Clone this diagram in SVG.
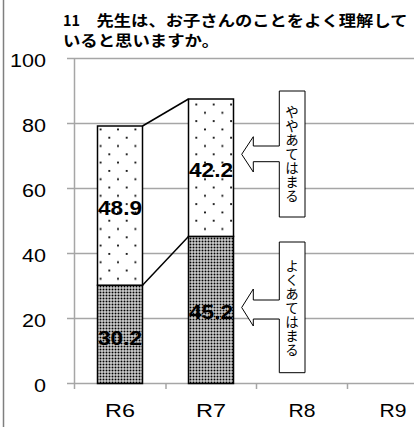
<svg xmlns="http://www.w3.org/2000/svg" width="414" height="427" viewBox="0 0 414 427">
<defs>
<style>
.grid{stroke:#a6a6a6;stroke-width:1.5;fill:none}
.ax{font-family:"Liberation Sans",Arial,sans-serif;font-size:18px;fill:#000}
.cat{font-family:"Liberation Sans",Arial,sans-serif;font-size:19px;fill:#000;text-anchor:middle}
.val{font-family:"Liberation Sans",Arial,sans-serif;font-size:20px;font-weight:bold;fill:#000;text-anchor:middle}
.bar{stroke:#000;stroke-width:1.5}
.ttl{font-family:"Noto Sans CJK JP","Noto Sans",sans-serif;font-size:15px;font-weight:bold;fill:#000}
.vt{font-family:"Noto Sans CJK JP","Noto Sans",sans-serif;font-size:13.5px;fill:#000;writing-mode:vertical-rl;text-orientation:upright;text-anchor:middle;letter-spacing:0.4px}
.call{fill:#fff;stroke:#000;stroke-width:1}
.conn{stroke:#000;stroke-width:1.5;fill:none}
</style>
<pattern id="sparse" width="17.4" height="16.6" patternUnits="userSpaceOnUse" x="2" y="2">
<rect width="17.4" height="16.6" fill="#fff"/>
<rect x="2" y="2" width="1.8" height="1.8" fill="#000"/>
<rect x="10.7" y="10.3" width="1.8" height="1.8" fill="#000"/>
</pattern>
<pattern id="dense" width="3" height="3" patternUnits="userSpaceOnUse">
<rect width="3" height="3" fill="#fff"/>
<rect x="0.5" y="0.5" width="2" height="2" fill="#000"/>
</pattern>
</defs>
<rect width="414" height="427" fill="#fff"/>
<line x1="3.5" y1="0" x2="3.5" y2="427" stroke="#7f7f7f" stroke-width="1.5"/>

<g id="title">
<text class="ttl" x="63" y="26" textLength="17" lengthAdjust="spacingAndGlyphs">11</text>
<text class="ttl" x="96.5" y="26" textLength="311" lengthAdjust="spacingAndGlyphs">先生は、お子さんのことをよく理解して</text>
<text class="ttl" x="63" y="46" textLength="156" lengthAdjust="spacingAndGlyphs">いると思いますか。</text>
</g>

<g id="axes">
<line class="grid" x1="67" y1="58.5" x2="414" y2="58.5"/>
<line class="grid" x1="67" y1="123.5" x2="414" y2="123.5"/>
<line class="grid" x1="67" y1="188.5" x2="414" y2="188.5"/>
<line class="grid" x1="67" y1="253.5" x2="414" y2="253.5"/>
<line class="grid" x1="67" y1="318.5" x2="414" y2="318.5"/>
<line class="grid" x1="67" y1="383.5" x2="414" y2="383.5"/>
<line class="grid" x1="74.5" y1="58.5" x2="74.5" y2="389"/>
<line class="grid" x1="166" y1="383.5" x2="166" y2="389"/>
<line class="grid" x1="256.5" y1="383.5" x2="256.5" y2="389"/>
<line class="grid" x1="347.5" y1="383.5" x2="347.5" y2="389"/>
<text class="ax" x="46" y="66.5" text-anchor="end" textLength="36" lengthAdjust="spacingAndGlyphs">100</text>
<text class="ax" x="46" y="131.5" text-anchor="end" textLength="24" lengthAdjust="spacingAndGlyphs">80</text>
<text class="ax" x="46" y="196.5" text-anchor="end" textLength="24" lengthAdjust="spacingAndGlyphs">60</text>
<text class="ax" x="46" y="261.5" text-anchor="end" textLength="24" lengthAdjust="spacingAndGlyphs">40</text>
<text class="ax" x="46" y="326.5" text-anchor="end" textLength="24" lengthAdjust="spacingAndGlyphs">20</text>
<text class="ax" x="46" y="391.5" text-anchor="end" textLength="12" lengthAdjust="spacingAndGlyphs">0</text>
<text class="cat" x="120" y="417" textLength="30" lengthAdjust="spacingAndGlyphs">R6</text>
<text class="cat" x="211" y="417" textLength="30" lengthAdjust="spacingAndGlyphs">R7</text>
<text class="cat" x="302" y="417" textLength="27" lengthAdjust="spacingAndGlyphs">R8</text>
<text class="cat" x="393" y="417" textLength="27" lengthAdjust="spacingAndGlyphs">R9</text>
</g>

<g id="connectors">
<line class="conn" x1="142.5" y1="126" x2="188.5" y2="99"/>
<line class="conn" x1="142.5" y1="285.2" x2="188.5" y2="236.4"/>
</g>

<g id="bar-R6">
<rect class="bar" x="97.5" y="285.2" width="45" height="98.3" fill="url(#dense)"/>
<rect class="bar" x="97.5" y="126" width="45" height="159.2" fill="url(#sparse)"/>
<text class="val" x="120" y="345" textLength="44" lengthAdjust="spacingAndGlyphs">30.2</text>
<text class="val" x="120" y="215" textLength="44" lengthAdjust="spacingAndGlyphs">48.9</text>
</g>

<g id="bar-R7">
<rect class="bar" x="188.5" y="236.4" width="45" height="147.1" fill="url(#dense)"/>
<rect class="bar" x="188.5" y="99" width="45" height="137.4" fill="url(#sparse)"/>
<text class="val" x="211" y="319" textLength="44" lengthAdjust="spacingAndGlyphs">45.2</text>
<text class="val" x="211" y="177" textLength="44" lengthAdjust="spacingAndGlyphs">42.2</text>
</g>

<g id="callout-yaya">
<path class="call" d="M279.3,91 H305 V217 H279.3 V161.7 H253.3 V172 L241.7,154.3 L253.3,136.7 V146 H279.3 Z"/>
<text class="vt" x="292" y="154">ややあてはまる</text>
</g>

<g id="callout-yoku">
<path class="call" d="M279.3,242 H305 V372.7 H279.3 V319 H253.3 V326 L241.7,307.5 L253.3,289 V300 H279.3 Z"/>
<text class="vt" x="292" y="308">よくあてはまる</text>
</g>
</svg>
